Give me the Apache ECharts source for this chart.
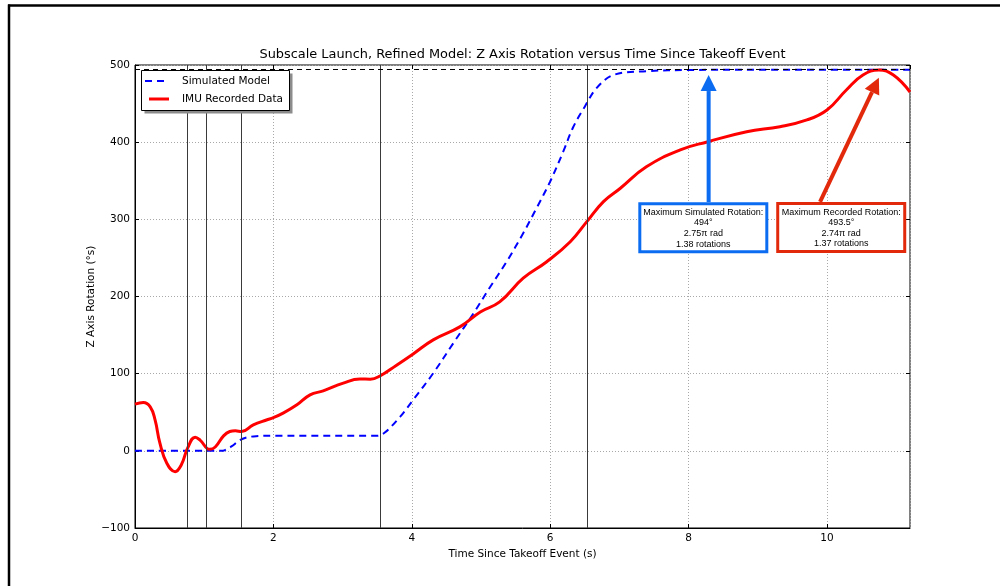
<!DOCTYPE html>
<html>
<head>
<meta charset="utf-8">
<title>Subscale Launch, Refined Model: Z Axis Rotation versus Time Since Takeoff Event</title>
<script src="https://cdn.jsdelivr.net/npm/echarts@6/dist/echarts.min.js"></script>
<style>
  html, body { margin: 0; padding: 0; background: #fff; }
  #chart { width: 1000px; height: 586px; }
</style>
</head>
<body>
<div id="chart"></div>
<script>
// Simulated model: rotation (deg) vs time since takeoff (s)
const simTime = [0, 1.25, 1.3, 1.4, 1.5, 1.6, 1.75, 2.0, 3.5, 3.61, 3.83, 4.02, 4.31, 4.60, 4.89, 5.13, 5.37, 5.61, 5.80, 6.00, 6.19, 6.33, 6.50, 6.67, 6.91, 7.39, 8.02, 9.0, 10.0, 11.2];
const simRot  = [0, 0, 1, 6, 13, 17, 19, 19.5, 19.5, 23.7, 44, 66, 100.6, 139.5, 178, 212, 245, 282, 314, 349, 388, 419, 446, 470, 487, 492, 493.5, 494, 494, 494];

// IMU recorded data: rotation (deg) vs time since takeoff (s)
const imuTime = [0, 0.12, 0.22, 0.29, 0.36, 0.46, 0.58, 0.67, 0.76, 0.87, 0.94, 1.08, 1.16, 1.28, 1.37, 1.45, 1.54, 1.71, 1.90, 2.0, 2.14, 2.34, 2.53, 2.72, 3.01, 3.25, 3.40, 3.54, 3.78, 4.02, 4.31, 4.70, 4.99, 5.27, 5.61, 5.95, 6.29, 6.53, 6.77, 7.01, 7.39, 7.88, 8.28, 8.84, 9.32, 9.71, 10.0, 10.28, 10.52, 10.75, 10.96, 11.2];
const imuRot  = [60.5, 62.6, 57, 40, 10, -16, -27, -18, 3.5, 17.7, 14, 2, 5, 19.4, 25, 26, 25, 33.7, 40, 43, 48.8, 59.6, 72.5, 77.7, 87.7, 93, 92.9, 97, 111, 125.6, 143.8, 161, 180, 193, 223.7, 245, 271, 297, 323, 340, 368, 390, 400.6, 413.6, 420, 428.8, 441.7, 467.6, 487, 493.5, 487, 465];

// Flight event markers (s) and the simulated maximum (deg)
const eventTimes = [0.76, 1.03, 1.54, 3.54, 6.535];
const maxSimulated = 494;

// Axis ranges and tick steps
const xRange = [0, 11.2];
const yRange = [-100, 500];
const xStep = 2;
const yStep = 100;

const seriesNames = ['Simulated Model', 'IMU Recorded Data'];

// Callout boxes: centre, arrow tip and arrow tail x, all in data units
const callouts = [
  { lines: ['Maximum Simulated Rotation:', '494°', '2.75π rad', '1.38 rotations'],
    at: [8.213, 289.2], tip: [8.29, 487], tailX: 8.29, color: '#0b6cf2' },
  { lines: ['Maximum Recorded Rotation:', '493.5°', '2.74π rad', '1.37 rotations'],
    at: [10.206, 289.5], tip: [10.75, 483.5], tailX: 9.90, color: '#e2290c' }
];

const FONT = '"DejaVu Sans", sans-serif';
const zip = (xs, ys) => xs.map((x, i) => [x, ys[i]]);
const minusSign = v => String(v).replace('-', '\u2212');

const chart = echarts.init(document.getElementById('chart'), null, { renderer: 'canvas' });

const axisTickStyle = { show: true, inside: true, length: 4, lineStyle: { color: '#000', width: 1 } };
const gridLine = { show: true, lineStyle: { color: '#a8a8a8', width: 1, type: [1, 2] } };

chart.setOption({
  animation: false,
  backgroundColor: '#fff',
  title: {
    text: 'Subscale Launch, Refined Model: Z Axis Rotation versus Time Since Takeoff Event',
    left: 522.5, top: 48, textAlign: 'center', padding: 0,
    textStyle: { fontFamily: FONT, fontSize: 12.9, fontWeight: 'normal', color: '#000' }
  },
  grid: {
    left: 135, right: 90, top: 65, bottom: 58,
    show: true, borderColor: '#000', borderWidth: 1, backgroundColor: 'transparent'
  },
  xAxis: [{
    type: 'value', min: xRange[0], max: xRange[1], interval: xStep,
    name: 'Time Since Takeoff Event (s)', nameLocation: 'middle', nameGap: 21, nameMoveOverlap: false,
    nameTextStyle: { fontFamily: FONT, fontSize: 10.5, color: '#000' },
    axisLine: { show: true, onZero: false, lineStyle: { color: '#000', width: 1 } },
    axisTick: axisTickStyle,
    axisLabel: { margin: 5, color: '#000', fontFamily: FONT, fontSize: 10.5, showMaxLabel: false, formatter: minusSign },
    splitLine: gridLine
  }, {
    type: 'value', position: 'top', min: xRange[0], max: xRange[1], interval: xStep,
    axisLine: { show: false, onZero: false }, axisTick: axisTickStyle,
    axisLabel: { show: false }, splitLine: { show: false }
  }],
  yAxis: [{
    type: 'value', min: yRange[0], max: yRange[1], interval: yStep,
    name: 'Z Axis Rotation (°s)', nameLocation: 'middle', nameGap: 38, nameMoveOverlap: false,
    nameTextStyle: { fontFamily: FONT, fontSize: 10.5, color: '#000' },
    axisLine: { show: true, onZero: false, lineStyle: { color: '#000', width: 1 } },
    axisTick: axisTickStyle,
    axisLabel: { margin: 5, color: '#000', fontFamily: FONT, fontSize: 10.5, formatter: minusSign },
    splitLine: gridLine
  }, {
    type: 'value', position: 'right', min: yRange[0], max: yRange[1], interval: yStep,
    axisLine: { show: false, onZero: false }, axisTick: axisTickStyle,
    axisLabel: { show: false }, splitLine: { show: false }
  }],
  series: [{
    name: 'events', type: 'line', data: [], silent: true, z: 1,
    markLine: {
      silent: true, symbol: ['none', 'none'], label: { show: false },
      data: [
        ...eventTimes.map(t => ({ xAxis: t, lineStyle: { color: '#3a3a3a', width: 1, type: 'solid' } })),
        { yAxis: maxSimulated, lineStyle: { color: '#000', width: 1, type: [5, 4] } }
      ]
    }
  }, {
    name: seriesNames[0], type: 'line', data: zip(simTime, simRot),
    showSymbol: false, smooth: 0.35, z: 3,
    lineStyle: { color: '#0000ff', width: 2, type: [7, 5] }
  }, {
    name: seriesNames[1], type: 'line', data: zip(imuTime, imuRot),
    showSymbol: false, smooth: 0.45, z: 4,
    lineStyle: { color: '#ff0000', width: 3 }
  }]
});

// Legend, callouts and page frame drawn as graphic elements
function overlays() {
  const els = [];
  // page frame (top and left edges)
  els.push({ type: 'line', shape: { x1: 8, y1: 5.5, x2: 1000, y2: 5.5 }, style: { stroke: '#000', lineWidth: 2.5 }, z: 100 });
  els.push({ type: 'line', shape: { x1: 9, y1: 4.5, x2: 9, y2: 586 }, style: { stroke: '#000', lineWidth: 2.5 }, z: 100 });

  // legend box with drop shadow
  els.push({ type: 'rect', shape: { x: 144.5, y: 73.5, width: 148, height: 40 }, style: { fill: '#8c8c8c' }, z: 50 });
  els.push({ type: 'rect', shape: { x: 141.5, y: 70.5, width: 148, height: 40 }, style: { fill: '#fff', stroke: '#000', lineWidth: 1 }, z: 51 });
  els.push({ type: 'line', shape: { x1: 145, y1: 81, x2: 168, y2: 81 }, style: { stroke: '#0000ff', lineWidth: 2, lineDash: [7, 5] }, z: 52 });
  els.push({ type: 'line', shape: { x1: 149, y1: 99, x2: 169, y2: 99 }, style: { stroke: '#ff0000', lineWidth: 3 }, z: 52 });
  seriesNames.forEach((n, i) => {
    els.push({ type: 'text', x: 182, y: 81 + i * 18, z: 52,
      style: { text: n, fill: '#000', fontFamily: FONT, fontSize: 10.5, align: 'left', verticalAlign: 'middle' } });
  });

  // callouts with arrows
  callouts.forEach(c => {
    const ctr = chart.convertToPixel({ gridIndex: 0 }, c.at);
    const tip = chart.convertToPixel({ gridIndex: 0 }, c.tip);
    const tailPx = chart.convertToPixel({ gridIndex: 0 }, [c.tailX, 0])[0];
    const w = 127, h = 48;
    const top = ctr[1] - h / 2 - 1.5;
    const dx = tip[0] - tailPx, dy = tip[1] - top, len = Math.hypot(dx, dy);
    const ux = dx / len, uy = dy / len, headLen = 16, half = 8;
    const base = [tip[0] - ux * headLen, tip[1] - uy * headLen];
    els.push({ type: 'line', z: 60, shape: { x1: tailPx, y1: top, x2: base[0], y2: base[1] }, style: { stroke: c.color, lineWidth: 4 } });
    els.push({ type: 'polygon', z: 60, shape: { points: [tip, [base[0] - uy * half, base[1] + ux * half], [base[0] + uy * half, base[1] - ux * half]] }, style: { fill: c.color } });
    els.push({ type: 'rect', z: 61, shape: { x: ctr[0] - w / 2, y: ctr[1] - h / 2, width: w, height: h }, style: { fill: '#fff', stroke: c.color, lineWidth: 3 } });
    els.push({ type: 'text', z: 62, x: ctr[0], y: ctr[1] + 0.5,
      style: { text: c.lines.join('\n'), fill: '#000', fontFamily: '"Liberation Sans", Arial, sans-serif', fontSize: 9, lineHeight: 10.6, align: 'center', verticalAlign: 'middle' } });
  });
  return els;
}

chart.setOption({ graphic: { elements: overlays() } });
</script>
</body>
</html>
